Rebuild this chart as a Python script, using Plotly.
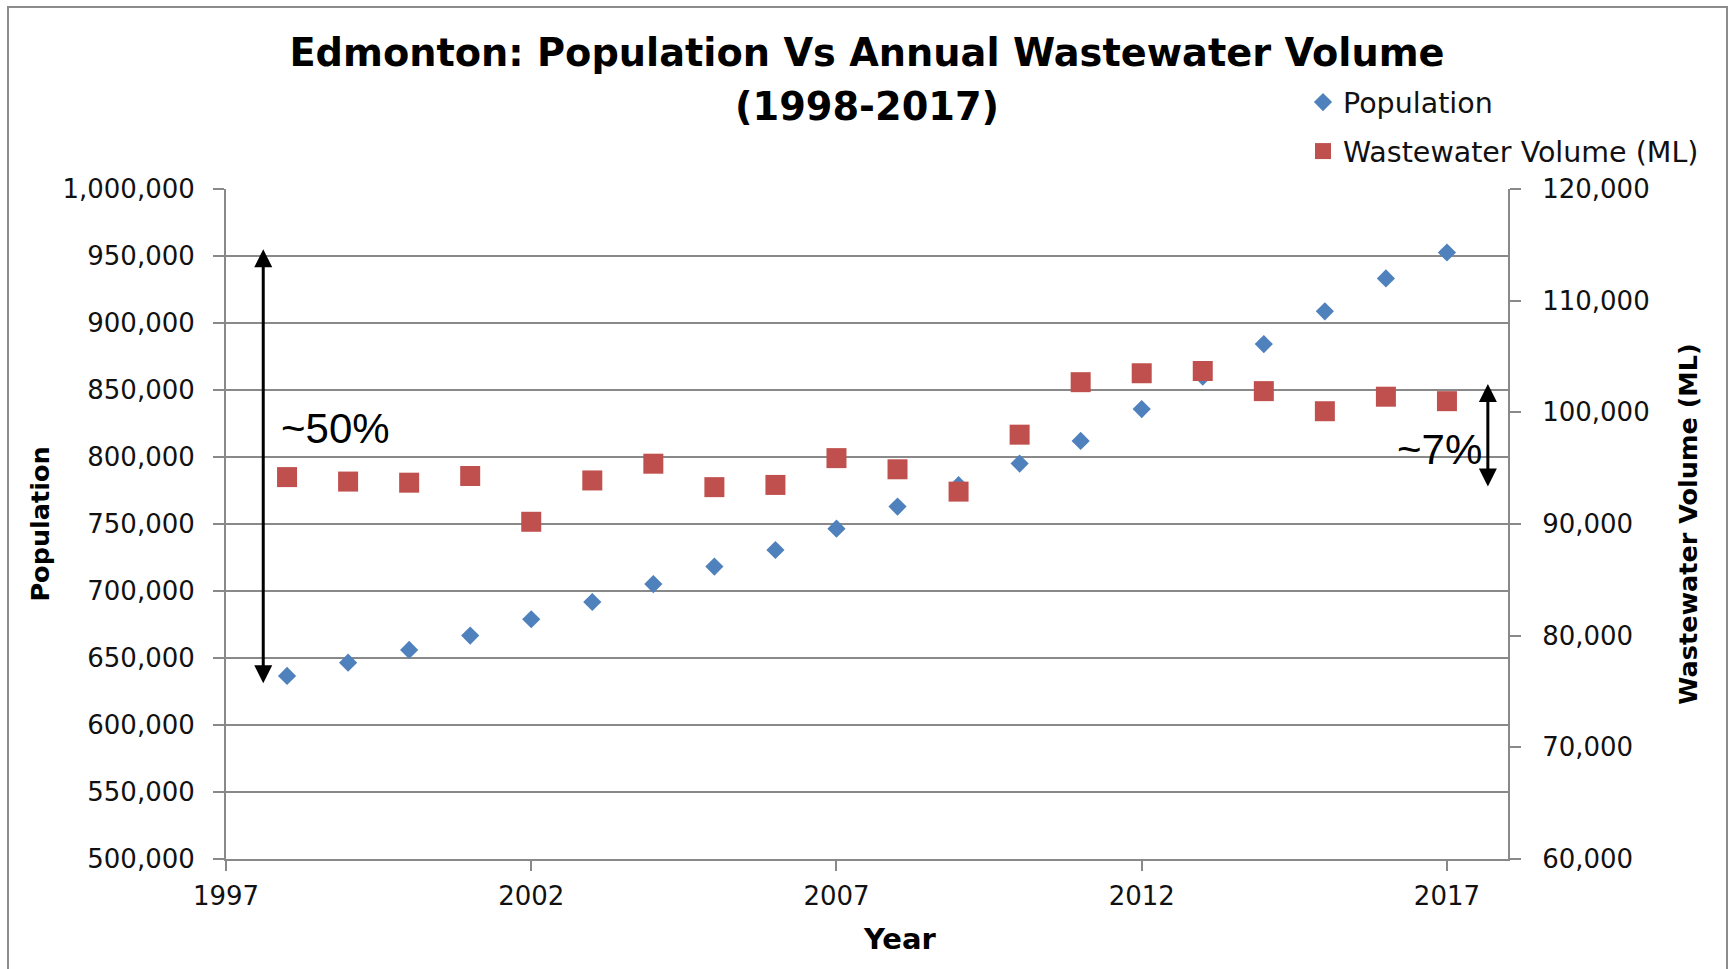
import plotly.graph_objects as go

# Edmonton population vs annual wastewater volume, 1998-2017
years = list(range(1998, 2018))
population = [636600, 646500, 656000, 666700, 678900, 691800, 705200, 718200,
              730600, 746500, 763000, 779000, 795100, 812000, 835800, 860000,
              884300, 908700, 933300, 952600]
wastewater_ml = [94200, 93800, 93700, 94300, 90200, 93900, 95400, 93300,
                 93500, 95900, 94900, 92900, 98000, 102700, 103500, 103700,
                 101900, 100100, 101400, 101000]

pop_ticks = list(range(500000, 1000001, 50000))
ww_ticks = list(range(60000, 120001, 10000))
year_ticks = [1997, 2002, 2007, 2012, 2017]

BLUE = "#4F81BD"
RED = "#C0504D"
GRID = "#898989"
TXT = "#111111"
TICK_FONT = dict(family="DejaVu Sans", size=26, color=TXT)
AXIS_TITLE_FONT = dict(family="DejaVu Sans", size=25.5, color="#000000", weight="bold")
NOTE_FONT = dict(family="Liberation Sans Narrow, Liberation Sans", size=42, color="#000000")
TITLE_FONT = dict(family="DejaVu Sans", size=38.3, color="#000000", weight="bold")

W, H = 1731, 969
ML, MR, MT, MB = 226, 223, 189, 110
PW, PH = W - ML - MR, H - MT - MB


def px_to_paper_x(px):
    return (px - ML) / PW


def px_to_paper_y(py):
    return (H - MB - py) / PH


fig = go.Figure()

fig.add_trace(go.Scatter(
    x=years, y=population, mode="markers", name="Population",
    legendgroup="pop",
    marker=dict(symbol="diamond", size=14, color=BLUE),
    yaxis="y",
))
fig.add_trace(go.Scatter(
    x=years, y=wastewater_ml, mode="markers", name="Wastewater Volume (ML)",
    legendgroup="ww",
    marker=dict(symbol="square", size=20, color=RED),
    yaxis="y2",
))

# Change arrows: population (~50%) and wastewater (~7%)
fig.add_annotation(
    x=1997.61, y=955000, ax=1997.61, ay=630000,
    xref="x", yref="y", axref="x", ayref="y",
    showarrow=True, arrowhead=2, startarrowhead=2, arrowside="end+start",
    arrowsize=1.2, arrowwidth=3, arrowcolor="#000000", standoff=0, startstandoff=0,
    text="",
)
fig.add_annotation(
    x=1997.87, y=821600, xref="x", yref="y", xanchor="left", yanchor="middle",
    text="~50%", showarrow=False, font=NOTE_FONT,
)
fig.add_annotation(
    x=2017.67, y=102540, ax=2017.67, ay=93220,
    xref="x", yref="y2", axref="x", ayref="y2",
    showarrow=True, arrowhead=2, startarrowhead=2, arrowside="end+start",
    arrowsize=1.2, arrowwidth=3, arrowcolor="#000000", standoff=0, startstandoff=0,
    text="",
)
fig.add_annotation(
    x=2017.61, y=96630, xref="x", yref="y2", xanchor="right", yanchor="middle",
    text="~7%", showarrow=False, font=NOTE_FONT,
)

# Second title line
fig.add_annotation(
    x=0.5, y=px_to_paper_y(107), xref="paper", yref="paper",
    xanchor="center", yanchor="middle", showarrow=False,
    text="(1998-2017)", font=TITLE_FONT,
)

# X axis title, set slightly right of the plot centre
fig.add_annotation(
    x=px_to_paper_x(900), y=px_to_paper_y(939), xref="paper", yref="paper",
    xanchor="center", yanchor="middle", showarrow=False,
    text="Year",
    font=dict(family="DejaVu Sans", size=29, color="#000000", weight="bold"),
)

# Outer frame
fig.add_shape(
    type="rect", xref="paper", yref="paper",
    x0=px_to_paper_x(8), x1=px_to_paper_x(1727),
    y0=px_to_paper_y(990), y1=px_to_paper_y(7),
    line=dict(color="#8C8C8C", width=2), fillcolor="rgba(0,0,0,0)", layer="below",
)

fig.update_layout(
    width=W, height=H,
    margin=dict(l=ML, r=MR, t=MT, b=MB),
    paper_bgcolor="white", plot_bgcolor="white",
    title=dict(
        text="Edmonton: Population Vs Annual Wastewater Volume",
        x=0.5, xref="paper", xanchor="center",
        y=1 - 53 / H, yref="container", yanchor="middle",
        font=TITLE_FONT,
    ),
    showlegend=True,
    legend=dict(
        x=px_to_paper_x(1303), y=px_to_paper_y(77), xanchor="left", yanchor="top",
        font=dict(family="DejaVu Sans", size=28.5, color=TXT),
        bgcolor="rgba(0,0,0,0)", tracegroupgap=9, traceorder="grouped",
    ),
    xaxis=dict(
        range=[1997, 2018], tickvals=year_ticks, ticktext=[str(y) for y in year_ticks],
        ticks="outside", ticklen=10, tickwidth=2, tickcolor=GRID,
        showline=True, linecolor=GRID, linewidth=2,
        showgrid=False, zeroline=False,
        tickfont=TICK_FONT, ticklabelstandoff=3,
    ),
    yaxis=dict(
        range=[500000, 1000000], tickvals=pop_ticks,
        ticktext=[f"{v:,}" for v in pop_ticks],
        ticks="outside", ticklen=11, tickwidth=2, tickcolor=GRID,
        showline=True, linecolor=GRID, linewidth=2,
        showgrid=True, gridcolor=GRID, gridwidth=2, zeroline=False,
        tickfont=TICK_FONT, ticklabelstandoff=13,
        title=dict(text="Population", standoff=6, font=AXIS_TITLE_FONT),
    ),
    yaxis2=dict(
        range=[60000, 120000], tickvals=ww_ticks,
        ticktext=[f"{v:,}" for v in ww_ticks],
        overlaying="y", side="right",
        ticks="outside", ticklen=11, tickwidth=2, tickcolor=GRID,
        showline=True, linecolor=GRID, linewidth=2,
        showgrid=False, zeroline=False,
        tickfont=TICK_FONT, ticklabelstandoff=16,
        title=dict(text="Wastewater Volume (ML)", standoff=30, font=AXIS_TITLE_FONT),
    ),
)

fig.write_html("out.html")
